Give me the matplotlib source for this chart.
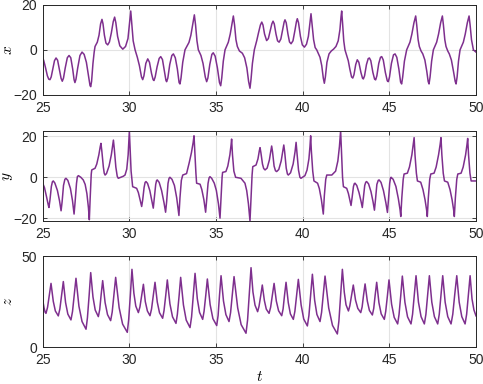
import matplotlib
matplotlib.use("Agg")
import matplotlib.pyplot as plt

plt.rcParams['font.family'] = ['Liberation Sans', 'DejaVu Sans']
plt.rcParams['mathtext.fontset'] = 'cm'

# ---- data (time, value) ----
x_points = [
    (25.00, -3.8), (25.05, -4.5), (25.15, -7.5), (25.27, -11.5), (25.35, -13.0), (25.42, -13.2),
    (25.49, -12.0), (25.58, -8.5), (25.68, -4.8), (25.77, -3.6), (25.86, -4.6), (25.96, -8.5),
    (26.06, -12.6), (26.13, -13.9), (26.20, -12.5), (26.30, -8.0), (26.42, -3.5), (26.52, -2.5),
    (26.62, -3.5), (26.73, -8.5), (26.81, -13.2), (26.86, -14.5), (26.92, -13.0), (27.02, -8.0),
    (27.15, -2.5), (27.27, -1.0), (27.39, -2.0), (27.52, -5.5), (27.65, -12.0), (27.73, -15.8),
    (27.77, -16.3), (27.82, -14.0), (27.90, -6.0), (27.97, -1.0), (28.02, 1.5), (28.15, 3.4),
    (28.25, 6.5), (28.34, 11.5), (28.42, 13.5), (28.48, 11.5), (28.56, 6.5), (28.65, 3.0),
    (28.75, 2.2), (28.85, 3.5), (28.96, 7.5), (29.07, 12.5), (29.15, 14.5), (29.22, 12.0),
    (29.32, 6.0), (29.45, 1.8), (29.62, 0.3), (29.78, 1.5), (29.92, 5.0), (30.02, 12.5),
    (30.08, 17.2), (30.14, 11.5), (30.22, 4.0), (30.33, 0.0), (30.46, -3.3), (30.58, -7.0),
    (30.70, -12.0), (30.77, -13.2), (30.84, -11.5), (30.95, -6.0), (31.06, -4.0), (31.16, -5.5),
    (31.28, -10.5), (31.37, -13.2), (31.42, -13.6), (31.49, -12.0), (31.60, -7.5), (31.72, -3.8),
    (31.81, -3.0), (31.91, -4.3), (32.03, -10.0), (32.11, -13.5), (32.15, -14.1), (32.22, -12.5),
    (32.33, -6.5), (32.45, -2.5), (32.54, -1.8), (32.65, -3.5), (32.77, -8.5), (32.87, -14.5),
    (32.92, -15.1), (32.98, -12.5), (33.08, -5.5), (33.21, 0.0), (33.44, 3.3), (33.55, 6.5),
    (33.66, 11.5), (33.75, 15.5), (33.82, 11.0), (33.90, 4.0), (33.98, 0.0), (34.13, -2.5),
    (34.25, -6.0), (34.38, -12.0), (34.46, -14.1), (34.53, -12.5), (34.64, -6.5), (34.76, -2.0),
    (34.84, -1.3), (34.95, -2.8), (35.08, -8.0), (35.20, -14.5), (35.27, -15.9), (35.33, -12.5),
    (35.42, -5.0), (35.52, 0.0), (35.71, 3.4), (35.82, 7.0), (35.93, 12.0), (36.00, 15.0),
    (36.07, 11.0), (36.15, 4.5), (36.23, 1.5), (36.35, -0.5), (36.52, -1.5), (36.65, -3.5),
    (36.78, -8.0), (36.88, -14.0), (36.96, -17.0), (37.02, -13.0), (37.10, -6.0), (37.21, 0.0),
    (37.35, 4.1), (37.45, 7.5), (37.56, 11.0), (37.64, 12.3), (37.71, 11.0), (37.80, 7.0),
    (37.92, 4.1), (38.02, 5.0), (38.13, 8.5), (38.22, 11.5), (38.29, 12.7), (38.36, 11.5),
    (38.46, 7.0), (38.55, 4.0), (38.64, 3.4), (38.74, 4.8), (38.85, 9.0), (38.93, 12.3),
    (38.98, 13.3), (39.05, 12.0), (39.15, 7.0), (39.24, 3.5), (39.33, 2.7), (39.44, 4.0),
    (39.55, 8.5), (39.64, 12.5), (39.69, 13.8), (39.76, 12.0), (39.87, 6.0), (39.98, 2.2),
    (40.10, 1.2), (40.22, 2.5), (40.33, 6.0), (40.42, 12.0), (40.48, 16.0), (40.54, 11.5),
    (40.63, 4.5), (40.72, 1.0), (40.81, 0.0), (41.00, -3.3), (41.10, -7.0), (41.19, -12.5),
    (41.25, -14.8), (41.31, -12.0), (41.40, -5.5), (41.52, -1.8), (41.65, -0.5), (41.78, 0.3),
    (41.92, 1.5), (42.05, 4.0), (42.15, 9.0), (42.21, 14.5), (42.25, 17.2), (42.30, 12.0),
    (42.37, 4.0), (42.44, 0.0), (42.63, -4.8), (42.72, -8.5), (42.82, -12.0), (42.89, -12.5),
    (42.96, -11.0), (43.06, -6.5), (43.15, -4.4), (43.24, -5.5), (43.36, -10.0), (43.45, -12.5),
    (43.50, -12.9), (43.57, -11.5), (43.68, -6.5), (43.78, -3.9), (43.85, -3.6), (43.93, -4.8),
    (44.05, -10.0), (44.15, -13.0), (44.21, -13.3), (44.28, -11.5), (44.39, -6.0), (44.49, -3.3),
    (44.56, -3.0), (44.65, -4.5), (44.77, -10.0), (44.88, -13.7), (44.94, -14.1), (45.01, -12.0),
    (45.12, -6.0), (45.24, -2.2), (45.33, -1.8), (45.43, -3.3), (45.55, -8.5), (45.65, -14.3),
    (45.71, -15.1), (45.77, -12.0), (45.87, -5.0), (46.00, 0.0), (46.19, 3.4), (46.30, 7.0),
    (46.42, 12.0), (46.52, 15.0), (46.58, 11.0), (46.66, 4.5), (46.73, 1.5), (46.83, -0.5),
    (46.93, -1.8), (47.05, -4.5), (47.16, -9.5), (47.24, -14.0), (47.29, -15.1), (47.35, -12.0),
    (47.44, -5.0), (47.54, 0.0), (47.73, 3.4), (47.84, 7.0), (47.96, 12.0), (48.06, 15.0),
    (48.12, 11.0), (48.20, 4.5), (48.27, 1.5), (48.37, -0.5), (48.46, -1.8), (48.58, -4.5),
    (48.70, -9.5), (48.80, -14.0), (48.85, -15.1), (48.91, -12.0), (48.99, -5.0), (49.08, 0.0),
    (49.27, 3.4), (49.38, 7.0), (49.50, 12.0), (49.60, 15.0), (49.66, 11.0), (49.74, 4.5),
    (49.85, 0.0), (50.00, -1.0),
]

y_points = [
    (25.00, -2.9), (25.10, -5.0), (25.22, -9.5), (25.32, -13.5), (25.36, -14.8), (25.42, -11.0),
    (25.50, -4.5), (25.56, -2.2), (25.61, -1.8), (25.70, -2.8), (25.85, -6.5), (25.97, -11.5),
    (26.06, -16.4), (26.12, -12.0), (26.20, -4.0), (26.28, -1.0), (26.34, -0.5), (26.45, -1.5),
    (26.60, -5.5), (26.72, -11.5), (26.81, -18.0), (26.87, -12.0), (26.95, -3.0), (27.00, 0.3),
    (27.06, 0.8), (27.20, 0.0), (27.34, -1.3), (27.45, -3.5), (27.55, -8.0), (27.64, -15.0),
    (27.69, -20.8), (27.74, -10.0), (27.80, 1.5), (27.83, 3.6), (28.02, 4.4), (28.12, 6.5),
    (28.24, 11.0), (28.32, 15.0), (28.36, 16.6), (28.41, 13.0), (28.50, 5.0), (28.55, 2.0),
    (28.60, 1.1), (28.68, 1.8), (28.83, 5.5), (28.96, 11.0), (29.04, 16.0), (29.08, 18.2),
    (29.13, 14.0), (29.22, 5.0), (29.30, 0.5), (29.36, -0.5), (29.50, 0.0), (29.65, 0.5),
    (29.75, 1.1), (29.85, 4.0), (29.93, 11.0), (29.97, 18.0), (30.00, 22.6), (30.04, 15.0),
    (30.10, 3.0), (30.19, -4.6), (30.30, -5.0), (30.42, -5.4), (30.52, -7.5), (30.62, -11.0),
    (30.71, -14.3), (30.77, -11.0), (30.85, -5.0), (30.91, -2.5), (30.96, -2.1), (31.05, -3.0),
    (31.18, -6.5), (31.30, -11.5), (31.38, -15.1), (31.44, -10.0), (31.52, -3.5), (31.57, -1.6),
    (31.61, -1.3), (31.72, -2.5), (31.86, -6.5), (32.00, -12.5), (32.09, -17.1), (32.15, -12.0),
    (32.23, -3.0), (32.29, -0.5), (32.34, 0.0), (32.46, -1.0), (32.60, -4.0), (32.73, -10.0),
    (32.82, -16.0), (32.86, -18.7), (32.92, -10.0), (33.00, -1.5), (33.08, 1.1), (33.30, 1.8),
    (33.45, 7.0), (33.58, 12.0), (33.68, 17.0), (33.73, 20.3), (33.78, 12.0), (33.84, 2.0),
    (33.88, -2.9), (34.08, -3.4), (34.18, -6.0), (34.30, -11.0), (34.40, -17.1), (34.46, -11.0),
    (34.54, -3.0), (34.60, -0.3), (34.65, 0.3), (34.75, -0.5), (34.90, -2.9), (35.02, -6.5),
    (35.14, -13.0), (35.23, -20.0), (35.29, -10.0), (35.35, 0.0), (35.38, 2.4), (35.57, 2.8),
    (35.68, 5.5), (35.80, 11.0), (35.87, 16.0), (35.90, 18.7), (35.95, 11.0), (36.03, 3.0),
    (36.13, 0.0), (36.44, -0.5), (36.67, -2.9), (36.77, -6.5), (36.87, -13.0), (36.96, -21.4),
    (37.02, -10.0), (37.08, 1.0), (37.12, 5.2), (37.31, 6.0), (37.42, 9.0), (37.50, 13.0),
    (37.54, 14.5), (37.59, 12.0), (37.68, 6.5), (37.75, 4.3), (37.83, 3.6), (37.95, 4.5),
    (38.08, 8.5), (38.17, 13.0), (38.21, 15.3), (38.26, 12.5), (38.35, 5.5), (38.43, 3.2),
    (38.50, 2.8), (38.62, 3.8), (38.76, 8.0), (38.86, 13.0), (38.91, 15.8), (38.96, 12.5),
    (39.05, 4.5), (39.12, 1.6), (39.17, 1.1), (39.30, 2.2), (39.45, 6.5), (39.56, 12.5),
    (39.62, 17.1), (39.67, 12.0), (39.76, 3.5), (39.84, 0.0), (39.90, -0.5), (40.13, 0.8),
    (40.25, 3.5), (40.36, 9.0), (40.42, 15.0), (40.46, 20.3), (40.50, 13.0), (40.58, 3.0),
    (40.65, -1.8), (40.86, -2.9), (40.96, -5.5), (41.08, -11.0), (41.19, -18.0), (41.25, -9.0),
    (41.33, -1.0), (41.39, 1.1), (41.68, 1.1), (41.90, 3.0), (42.03, 8.0), (42.12, 15.0),
    (42.19, 22.8), (42.24, 12.0), (42.30, 0.0), (42.35, -4.6), (42.54, -5.4), (42.64, -8.0),
    (42.72, -11.0), (42.79, -13.8), (42.85, -10.0), (42.93, -4.5), (42.98, -3.1), (43.02, -2.9),
    (43.12, -4.0), (43.25, -7.5), (43.36, -11.5), (43.44, -14.8), (43.50, -10.0), (43.58, -4.0),
    (43.64, -2.4), (43.69, -2.1), (43.80, -3.2), (43.94, -7.0), (44.06, -12.0), (44.14, -16.1),
    (44.20, -11.0), (44.28, -3.5), (44.36, -1.5), (44.41, -1.3), (44.52, -2.5), (44.66, -6.5),
    (44.80, -12.5), (44.89, -17.2), (44.95, -11.0), (45.02, -3.0), (45.07, -0.3), (45.10, 0.0),
    (45.22, -1.0), (45.38, -4.5), (45.52, -10.5), (45.62, -16.0), (45.66, -19.2), (45.72, -10.0),
    (45.80, -1.0), (45.85, 1.6), (46.04, 2.0), (46.16, 5.0), (46.30, 11.0), (46.38, 16.0),
    (46.43, 19.4), (46.48, 11.0), (46.56, 2.0), (46.62, -1.8), (46.81, -2.4), (46.94, -6.0),
    (47.06, -11.0), (47.15, -16.0), (47.19, -19.2), (47.25, -10.0), (47.33, -1.0), (47.39, 1.6),
    (47.58, 2.0), (47.70, 5.0), (47.84, 11.0), (47.93, 16.0), (47.98, 19.4), (48.03, 11.0),
    (48.11, 2.0), (48.18, -1.8), (48.37, -2.4), (48.50, -6.0), (48.62, -11.0), (48.71, -16.0),
    (48.75, -19.2), (48.81, -10.0), (48.89, -1.0), (48.95, 1.6), (49.14, 2.0), (49.26, 5.0),
    (49.40, 11.0), (49.48, 16.0), (49.52, 19.0), (49.57, 11.0), (49.65, 2.0), (49.72, -1.8),
    (50.00, -1.8),
]

z_points = [
    (25.00, 25.9), (25.08, 21.5), (25.14, 19.2), (25.19, 18.6), (25.28, 21.9), (25.38, 28.4),
    (25.48, 35.0), (25.61, 25.2), (25.73, 19.9), (25.90, 17.2), (25.99, 21.0), (26.09, 28.5),
    (26.19, 36.0), (26.32, 24.5), (26.45, 18.2), (26.63, 15.0), (26.72, 19.6), (26.82, 28.7),
    (26.92, 37.8), (27.09, 22.5), (27.27, 14.1), (27.50, 9.9), (27.58, 16.1), (27.68, 28.5),
    (27.77, 40.9), (27.90, 27.6), (28.03, 20.4), (28.21, 16.8), (28.29, 20.7), (28.37, 28.6),
    (28.46, 36.5), (28.60, 24.5), (28.74, 17.9), (28.92, 14.6), (29.01, 19.3), (29.11, 28.8),
    (29.21, 38.3), (29.41, 21.7), (29.61, 12.7), (29.88, 8.2), (29.96, 15.1), (30.06, 28.9),
    (30.15, 42.7), (30.26, 29.7), (30.37, 22.6), (30.52, 19.0), (30.61, 22.1), (30.71, 28.3),
    (30.81, 34.5), (30.92, 25.0), (31.04, 19.9), (31.19, 17.3), (31.28, 21.0), (31.38, 28.3),
    (31.48, 35.6), (31.61, 24.8), (31.74, 18.9), (31.92, 15.9), (32.00, 20.1), (32.10, 28.5),
    (32.19, 36.9), (32.34, 23.8), (32.49, 16.7), (32.69, 13.1), (32.77, 18.1), (32.87, 28.2),
    (32.96, 38.3), (33.12, 23.2), (33.28, 14.9), (33.50, 10.8), (33.59, 16.7), (33.69, 28.6),
    (33.79, 40.5), (33.92, 26.6), (34.05, 19.1), (34.23, 15.3), (34.31, 19.7), (34.41, 28.6),
    (34.50, 37.4), (34.66, 23.4), (34.82, 15.7), (35.04, 11.9), (35.12, 17.4), (35.20, 28.3),
    (35.29, 39.2), (35.43, 25.4), (35.57, 17.9), (35.75, 14.1), (35.84, 19.0), (35.94, 28.9),
    (36.04, 38.7), (36.25, 21.6), (36.45, 12.4), (36.73, 7.7), (36.82, 14.9), (36.92, 29.2),
    (37.02, 43.6), (37.13, 30.3), (37.25, 23.1), (37.40, 19.5), (37.48, 22.4), (37.58, 28.3),
    (37.67, 34.1), (37.79, 25.6), (37.90, 20.9), (38.06, 18.6), (38.15, 21.9), (38.25, 28.4),
    (38.35, 35.0), (38.48, 25.3), (38.61, 20.0), (38.79, 17.3), (38.87, 21.0), (38.95, 28.3),
    (39.04, 35.6), (39.17, 24.4), (39.29, 18.3), (39.46, 15.3), (39.55, 19.7), (39.65, 28.4),
    (39.75, 37.2), (39.91, 23.2), (40.06, 15.5), (40.27, 11.7), (40.36, 17.4), (40.46, 28.7),
    (40.56, 40.0), (40.69, 25.8), (40.82, 18.0), (41.00, 14.1), (41.09, 19.1), (41.19, 29.0),
    (41.29, 39.0), (41.50, 21.6), (41.72, 12.0), (42.00, 7.3), (42.09, 14.4), (42.19, 28.5),
    (42.29, 42.7), (42.40, 30.2), (42.50, 23.3), (42.64, 19.9), (42.72, 22.7), (42.82, 28.4),
    (42.92, 34.1), (43.05, 25.8), (43.18, 21.3), (43.35, 19.0), (43.43, 22.1), (43.51, 28.4),
    (43.60, 34.7), (43.73, 25.3), (43.85, 20.2), (44.02, 17.7), (44.10, 21.3), (44.18, 28.4),
    (44.27, 35.6), (44.40, 24.4), (44.53, 18.3), (44.71, 15.3), (44.79, 19.6), (44.89, 28.3),
    (44.98, 36.9), (45.13, 23.6), (45.28, 16.4), (45.48, 12.8), (45.56, 18.0), (45.66, 28.5),
    (45.75, 39.0), (45.90, 24.6), (46.05, 16.7), (46.25, 12.8), (46.34, 18.1), (46.44, 28.6),
    (46.54, 39.2), (46.68, 24.7), (46.83, 16.8), (47.02, 12.8), (47.11, 18.1), (47.21, 28.6),
    (47.31, 39.2), (47.45, 24.7), (47.60, 16.8), (47.79, 12.8), (47.88, 18.1), (47.98, 28.6),
    (48.08, 39.2), (48.22, 24.7), (48.37, 16.8), (48.56, 12.8), (48.66, 18.1), (48.77, 28.6),
    (48.89, 39.2), (49.03, 24.7), (49.18, 16.8), (49.37, 12.8), (49.46, 18.1), (49.56, 28.6),
    (49.66, 39.2), (49.77, 26.5), (49.88, 20.5), (50.00, 17.2),
]

t_x, x_vals = zip(*x_points)
t_y, y_vals = zip(*y_points)
t_z, z_vals = zip(*z_points)

xticks = [25, 30, 35, 40, 45, 50]
labels = ['$x$', '$y$', '$z$']
ylims = [(-20, 20), (-21.4, 22.8), (0, 50)]
yticks = [[-20, 0, 20], [-20, 0, 20], [0, 50]]

line_color = (0.494, 0.184, 0.556)
axis_color = (0.15, 0.15, 0.15)

W, H = 483, 384
fig = plt.figure(figsize=(W / 100, H / 100), dpi=100)
boxes = [(42.7, 4.7, 476, 95), (42.7, 130.7, 476, 221), (42.7, 256, 476, 347.3)]
series = [(t_x, x_vals), (t_y, y_vals), (t_z, z_vals)]

for i, ((l, tp, r, b), (tt, vv)) in enumerate(zip(boxes, series)):
    ax = fig.add_axes([l / W, 1 - b / H, (r - l) / W, (b - tp) / H])
    ax.plot(tt, vv, color=line_color, lw=1.1, solid_joinstyle='round')
    ax.set_xlim(25, 50)
    ax.set_ylim(*ylims[i])
    ax.set_xticks(xticks)
    ax.set_yticks(yticks[i])
    ax.grid(True, color='#e3e3e3', lw=0.8)
    ax.set_axisbelow(True)
    ax.tick_params(direction='in', length=3, width=0.6, top=True, right=True,
                   colors=axis_color, labelsize=10, pad=4)
    for s in ax.spines.values():
        s.set_color(axis_color)
        s.set_linewidth(0.7)
    ax.set_ylabel(labels[i], fontsize=11, va='center')
    ax.yaxis.set_label_coords(-0.080, 0.5)
    if i == 2:
        ax.set_xlabel('$t$', fontsize=11, labelpad=2)

fig.savefig('out.png', dpi=100)
